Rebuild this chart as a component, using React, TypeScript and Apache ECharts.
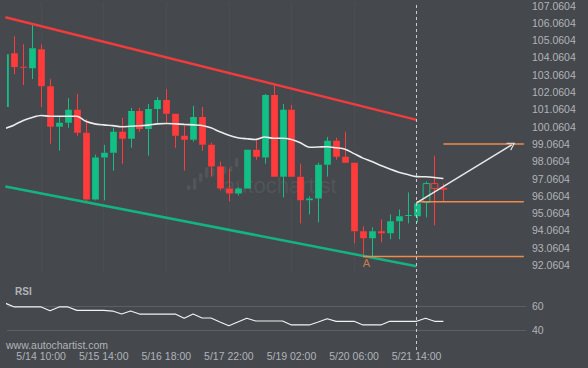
import React, { useEffect, useRef } from "react";
import * as echarts from "echarts";

// ---- data ----
const dateLabels = ["5/14 10:00", "5/15 14:00", "5/16 18:00", "5/17 22:00", "5/19 02:00", "5/20 06:00", "5/21 14:00"];
const dateLabelIdx = [4, 11, 18, 25, 32, 39, 46];
const priceTicks = [92.0604, 93.0604, 94.0604, 95.0604, 96.0604, 97.0604, 98.0604, 99.0604, 100.0604, 101.0604, 102.0604, 103.0604, 104.0604, 105.0604, 106.0604, 107.0604];
const rsiTicks = [40, 60];

const opens = [101.2, 104.3, 103.52, 103.44, 104.53, 102.4, 100.05, 100.28, 101.03, 99.7, 95.85, 98.27, 98.55, 99.76, 99.36, 100.97, 99.93, 101.08, 101.6, 100.8, 99.53, 99.3, 100.62, 99.01, 97.75, 96.49, 96.2, 96.49, 98.73, 98.27, 101.89, 97.17, 101.03, 97.17, 95.8, 95.91, 97.86, 99.24, 98.32, 97.98, 94.01, 93.61, 94.01, 93.9, 94.59, 94.9, 94.88, 95.68, 96.77, 96.5];
const closes = [104.24, 103.5, 103.48, 104.59, 102.4, 100.05, 100.28, 101.03, 99.7, 95.85, 98.27, 98.55, 99.76, 99.36, 100.97, 99.93, 101.08, 101.6, 100.8, 99.53, 99.3, 100.62, 99.01, 97.75, 96.49, 96.2, 96.49, 98.73, 98.32, 101.89, 97.17, 101.03, 97.17, 95.8, 95.91, 97.86, 99.24, 98.32, 97.98, 94.01, 93.61, 94.01, 93.9, 94.59, 94.88, 94.95, 95.62, 96.77, 96.49, 96.47];
const lows = [101.0, 103.09, 102.46, 102.81, 101.2, 99.07, 98.67, 99.99, 99.53, 95.74, 95.8, 95.8, 97.52, 97.92, 98.84, 99.76, 98.38, 100.28, 100.28, 98.84, 97.52, 99.19, 98.67, 97.17, 96.37, 95.74, 96.08, 96.49, 98.15, 97.92, 97.17, 95.97, 97.17, 94.47, 94.99, 94.53, 97.17, 98.15, 97.98, 93.32, 92.52, 92.52, 93.38, 93.55, 93.55, 94.47, 94.53, 94.82, 94.36, 95.74];
const highs = [104.5, 105.28, 104.82, 105.97, 104.82, 102.81, 100.68, 101.71, 101.95, 100.51, 98.44, 99.01, 99.99, 100.57, 101.14, 101.14, 101.37, 101.77, 102.23, 100.8, 100.11, 101.26, 101.2, 99.13, 98.04, 97.63, 96.55, 98.73, 99.3, 101.95, 102.46, 101.37, 101.31, 97.92, 96.03, 97.98, 99.47, 99.42, 99.76, 97.98, 94.3, 94.24, 94.7, 94.99, 95.28, 96.26, 95.68, 96.89, 98.38, 96.77];
const hollowFrom = 47;

const ma = [99.96, 100.16, 100.42, 100.59, 100.7, 100.66, 100.66, 100.66, 100.66, 100.37, 100.22, 100.16, 100.12, 100.05, 100.08, 100.11, 100.15, 100.22, 100.24, 100.22, 100.19, 100.16, 100.13, 99.99, 99.76, 99.56, 99.42, 99.36, 99.32, 99.46, 99.39, 99.39, 99.32, 99.13, 98.87, 98.88, 98.9, 98.84, 98.76, 98.5, 98.24, 98.04, 97.81, 97.61, 97.43, 97.29, 97.17, 97.16, 97.12, 97.06];
const rsi = [62.3, 59.2, 59.2, 59.2, 59.2, 56.1, 59.2, 59.2, 56.4, 56.4, 56.4, 56.4, 55.8, 53.3, 55.8, 53.3, 53.3, 53.3, 53.3, 53.3, 49.75, 53.3, 50, 50, 46.7, 43.6, 46.7, 49.75, 47.5, 47.5, 47.5, 47.5, 44.2, 44.2, 44.2, 46.7, 49.4, 47.25, 47.25, 47.25, 44.2, 44.2, 44.2, 47.25, 47.25, 47.25, 47.25, 49.75, 47.25, 47.25];

const resistance = [[0, 106.38], [46, 100.45]];
const support = [[0, 96.6], [46, 91.99]];
const levelLow = [[40, 92.56], [58, 92.56]];
const levelMid = [[46, 95.72], [58, 95.72]];
const levelTarget = [[49, 99.06], [58, 99.06]];
const arrowFrom = [46, 95.66];
const arrowTo = [56.64, 99.01];
const markerA = [40.4, 92.17];
const patternEndIdx = 46;

// ---- styles ----
const BG = "#45484d";
const TXT = "#b0b4b9";
const GREEN = "#12bf84";
const RED = "#ff3b3b";
const ORANGE = "#ef8a4c";
const FONT = "'Liberation Sans', Arial, sans-serif";
const X_MIN = 0.18;
const X_MAX = 58.24;

export default function App() {
  const ref = useRef<HTMLDivElement>(null);
  useEffect(() => {
    if (!ref.current) return;
    const chart = echarts.init(ref.current, null, { renderer: "svg" });
    const candleData = opens.map((o, i) => [i, o, closes[i], lows[i], highs[i], i >= hollowFrom ? 1 : 0]);

    const renderCandle = (params: any, api: any) => {
      const x = api.value(0);
      const o = api.value(1);
      const c = api.value(2);
      const l = api.value(3);
      const h = api.value(4);
      const hollow = api.value(5) === 1;
      const pO = api.coord([x, o]);
      const pC = api.coord([x, c]);
      const pL = api.coord([x, l]);
      const pH = api.coord([x, h]);
      const w = api.size([1, 0])[0] * 0.75;
      const color = c >= o ? GREEN : RED;
      const cx = Math.round(pO[0]) + 0.5;
      let top = Math.min(pO[1], pC[1]);
      let bot = Math.max(pO[1], pC[1]);
      if (bot - top < 1) bot = top + 1;
      const children: any[] = [
        { type: "line", shape: { x1: cx, y1: pH[1], x2: cx, y2: top }, style: { stroke: color, lineWidth: 1 } },
        { type: "line", shape: { x1: cx, y1: bot, x2: cx, y2: pL[1] }, style: { stroke: color, lineWidth: 1 } },
      ];
      if (hollow) {
        children.push({ type: "rect", shape: { x: cx - w / 2, y: top, width: w, height: bot - top }, style: { fill: "none", stroke: color, lineWidth: 1 } });
      } else {
        children.push({ type: "rect", shape: { x: cx - w / 2, y: top, width: w, height: bot - top }, style: { fill: color, stroke: null } });
      }
      return { type: "group", children };
    };

    const wmBars = [
      [187, 185, 5], [193, 178, 12], [199, 173, 9], [205, 167, 11], [211, 168, 8], [217, 166, 9], [223, 166, 8], [229, 166, 6], [235, 158, 9],
    ];

    const option: any = {
      animation: false,
      backgroundColor: BG,
      textStyle: { fontFamily: FONT },
      grid: [
        { left: 7, right: 62, top: 0, height: 272 },
        { left: 7, right: 62, top: 282, height: 60 },
        { left: 7, right: 62, top: 4, height: 346 },
      ],
      xAxis: [
        {
          type: "value", gridIndex: 0, min: X_MIN, max: X_MAX,
          axisLine: { show: false }, axisLabel: { show: false },
          axisTick: { show: false, customValues: dateLabelIdx },
          splitLine: { show: true, lineStyle: { color: "#4a4d52", width: 1 } },
        },
        {
          type: "value", gridIndex: 1, min: X_MIN, max: X_MAX,
          axisLine: { show: false }, axisTick: { show: false }, splitLine: { show: false },
          axisLabel: {
            customValues: dateLabelIdx,
            formatter: (v: number) => dateLabels[dateLabelIdx.indexOf(Math.round(v))] || "",
            color: TXT, fontSize: 10.5, fontFamily: FONT, margin: 8,
          },
        },
        {
          type: "value", gridIndex: 2, min: X_MIN, max: X_MAX, show: false,
        },
      ],
      yAxis: [
        {
          type: "value", gridIndex: 0, position: "right", min: 91.66, max: 107.29,
          axisLine: { show: false }, axisTick: { show: false, customValues: priceTicks }, splitLine: { show: false },
          axisLabel: { customValues: priceTicks, formatter: (v: number) => v.toFixed(4), color: TXT, fontSize: 10.5, fontFamily: FONT, margin: 6 },
        },
        {
          type: "value", gridIndex: 1, position: "right", min: 30, max: 80,
          axisLine: { show: false }, axisTick: { show: false, customValues: rsiTicks },
          splitLine: { show: true, lineStyle: { color: "#5c6065", width: 1 } },
          axisLabel: { customValues: rsiTicks, color: TXT, fontSize: 10.5, fontFamily: FONT, margin: 6 },
        },
        { type: "value", gridIndex: 2, min: 0, max: 1, show: false },
      ],
      graphic: [
        {
          type: "group", silent: true, z: 0,
          children: wmBars.map(([x, y, h]) => ({
            type: "rect", shape: { x, y, width: 3.4, height: h, r: 1.5 }, style: { fill: "#52555a" },
          })),
        },
        { type: "text", silent: true, z: 0, x: 223, y: 185, style: { text: "autochartist", fill: "#515459", font: `22px ${FONT}`, textVerticalAlign: "middle" } },
        { type: "text", x: 15, y: 291, style: { text: "RSI", fill: TXT, font: `bold 10px ${FONT}`, textVerticalAlign: "middle" } },
        { type: "text", x: 6, y: 345, style: { text: "www.autochartist.com", fill: TXT, font: `10.5px ${FONT}`, textVerticalAlign: "middle" } },
      ],
      series: [
        {
          type: "line", xAxisIndex: 2, yAxisIndex: 2, data: [[patternEndIdx, 0.5]], symbol: "none",
          lineStyle: { opacity: 0 }, silent: true,
          markLine: {
            silent: true, symbol: ["none", "none"], label: { show: false },
            lineStyle: { color: "#c9cbce", type: [3, 3], width: 1 },
            data: [{ xAxis: patternEndIdx }],
          },
        },
        {
          type: "line", xAxisIndex: 0, yAxisIndex: 0, data: resistance, symbol: "none",
          lineStyle: { color: "#f03c3c", width: 2.5 }, silent: true,
        },
        {
          type: "line", xAxisIndex: 0, yAxisIndex: 0, data: support, symbol: "none",
          lineStyle: { color: "#13b482", width: 2.5 }, silent: true,
        },
        {
          type: "line", xAxisIndex: 0, yAxisIndex: 0, data: ma.map((v, i) => [i, v]), symbol: "none", smooth: 0.3,
          lineStyle: { color: "#ebebeb", width: 1.6 }, silent: true,
        },
        {
          type: "custom", xAxisIndex: 0, yAxisIndex: 0, data: candleData, renderItem: renderCandle, clip: true,
          encode: { x: 0, y: [1, 2, 3, 4] }, silent: true, z: 3,
        },
        { type: "line", xAxisIndex: 0, yAxisIndex: 0, data: levelLow, symbol: "none", lineStyle: { color: ORANGE, width: 1.5 }, silent: true, z: 4 },
        { type: "line", xAxisIndex: 0, yAxisIndex: 0, data: levelMid, symbol: "none", lineStyle: { color: ORANGE, width: 1.5 }, silent: true, z: 4 },
        { type: "line", xAxisIndex: 0, yAxisIndex: 0, data: levelTarget, symbol: "none", lineStyle: { color: ORANGE, width: 1.5 }, silent: true, z: 4 },
        {
          type: "scatter", xAxisIndex: 0, yAxisIndex: 0, data: [markerA], symbolSize: 0, silent: true, z: 5,
          label: { show: true, position: "inside", formatter: "A", color: ORANGE, fontSize: 11, fontFamily: FONT },
        },
        {
          type: "line", xAxisIndex: 0, yAxisIndex: 0, data: [], symbol: "none", silent: true, z: 6,
          markLine: {
            silent: true, label: { show: false },
            symbol: ["none", "path://M5,0 L10,9 L9,10 L5,2.4 L1,10 L0,9 Z"], symbolSize: [9, 8],
            lineStyle: { color: "#e8e8e8", width: 1.5, type: "solid" },
            data: [[{ coord: arrowFrom }, { coord: arrowTo }]],
          },
        },
        {
          type: "line", xAxisIndex: 1, yAxisIndex: 1, data: rsi.map((v, i) => [i, v]), symbol: "none",
          lineStyle: { color: "#f2f2f2", width: 1.2 }, silent: true,
        },
      ],
    };
    chart.setOption(option);
    return () => chart.dispose();
  }, []);
  return <div ref={ref} style={{ position: "fixed", left: 0, top: 0, width: 588, height: 368, background: BG }} />;
}
